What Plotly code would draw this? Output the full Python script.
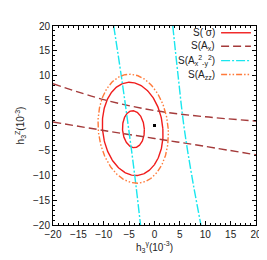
import numpy as np
import plotly.graph_objects as go

# ---- data ----
# ellipses: centre x, centre y, semi-axis x, semi-axis y, shear (top leans left)
sigma_outer = dict(cx=-4.3, cy=-0.68, ax=5.95, ay=9.37, k=0.6)
sigma_inner = dict(cx=-4.15, cy=-0.74, ax=2.15, ay=3.71, k=0.15)
azz_ellipse = dict(cx=-4.2, cy=-0.65, ax=6.9, ay=10.95, k=0.7)

# S(A_x) two branches (x -> y)
ax_x = [-20, -10, 0, 10, 20]
ax_upper_y = [8.4, 5.2, 3.0, 1.75, 0.9]
ax_lower_y = [0.7, -1.0, -2.6, -4.2, -5.9]

# S(A_x2-y2) two branches (y -> x)
axy_y = [20, 10, 0, -10, -20]
axy_left_x = [-8.04, -6.55, -5.18, -3.9, -2.75]
axy_right_x = [3.6, 4.65, 5.78, 7.33, 9.15]

best_point = ([0.0], [0.0])

tick_vals = [-20, -15, -10, -5, 0, 5, 10, 15, 20]

RED = "#f01c1c"
BROWN = "#a43a3a"
CYAN = "#19e6ee"
ORANGE = "#ff7a3a"


def ellipse(p):
    t = np.linspace(0, 2 * np.pi, 241)
    x = p["cx"] + p["ax"] * np.cos(t) - p["k"] * np.sin(t)
    y = p["cy"] + p["ay"] * np.sin(t)
    return x, y


fig = go.Figure()
lw = 1.4

for p in (sigma_outer, sigma_inner):
    x, y = ellipse(p)
    fig.add_trace(go.Scatter(x=x, y=y, mode="lines", line=dict(color=RED, width=lw)))

for yy in (ax_upper_y, ax_lower_y):
    fig.add_trace(go.Scatter(x=ax_x, y=yy, mode="lines",
                             line=dict(color=BROWN, width=lw, dash="8px,4px", shape="spline")))

for xx in (axy_left_x, axy_right_x):
    fig.add_trace(go.Scatter(x=xx, y=axy_y, mode="lines",
                             line=dict(color=CYAN, width=lw, dash="9px,2px,2px,2px", shape="spline")))

x, y = ellipse(azz_ellipse)
fig.add_trace(go.Scatter(x=x, y=y, mode="lines",
                         line=dict(color=ORANGE, width=lw, dash="6px,2px,1.5px,2px,1.5px,2px")))

fig.add_trace(go.Scatter(x=best_point[0], y=best_point[1], mode="markers",
                         marker=dict(symbol="square", size=3, color="black")))

# manual legend (text right-aligned, sample line on the right)
legend_items = [
    ("S( σ)", RED, "solid"),
    ("S(A<sub>x</sub>)", BROWN, "8px,4px"),
    ("S(A<sub>x</sub><sup>2</sup><sub>-y</sub><sup>2</sup>)", CYAN, "9px,2px,2px,2px"),
    ("S(A<sub>zz</sub>)", ORANGE, "6px,2px,1.5px,2px,1.5px,2px"),
]
legend_y = [0.966, 0.898, 0.826, 0.756]
annotations = []
shapes = []
for (txt, col, dash), yy in zip(legend_items, legend_y):
    annotations.append(dict(x=0.806, y=yy, xref="paper", yref="paper", text=txt,
                            showarrow=False, xanchor="right", yanchor="middle",
                            font=dict(size=10, color="#222")))
    shapes.append(dict(type="line", xref="paper", yref="paper", x0=0.828, x1=0.975,
                       y0=yy, y1=yy, line=dict(color=col, width=lw, dash=dash)))

axis_common = dict(
    range=[-20, 20], tickvals=tick_vals, ticks="inside", ticklen=4, tickwidth=1,
    tickcolor="black", showline=True, linecolor="black", linewidth=1, mirror="allticks",
    showgrid=False, zeroline=False, tickfont=dict(size=10, color="#222"),
    minor=dict(dtick=1, ticks="inside", ticklen=2, tickcolor="black", showgrid=False),
)

fig.update_layout(
    width=267, height=260,
    margin=dict(l=44, r=19, t=12, b=43),
    paper_bgcolor="white", plot_bgcolor="white",
    showlegend=False,
    font=dict(family="Liberation Sans, Arial, sans-serif", size=10, color="#222"),
    xaxis=dict(axis_common, title=dict(text="h<sub>3</sub><sup>γ</sup>(10<sup>-3</sup>)",
                                       font=dict(size=10), standoff=4)),
    yaxis=dict(axis_common, title=dict(text="h<sub>3</sub><sup>Z</sup>(10<sup>-3</sup>)",
                                       font=dict(size=10), standoff=6)),
    annotations=annotations,
    shapes=shapes,
)

fig.write_html("out.html")
